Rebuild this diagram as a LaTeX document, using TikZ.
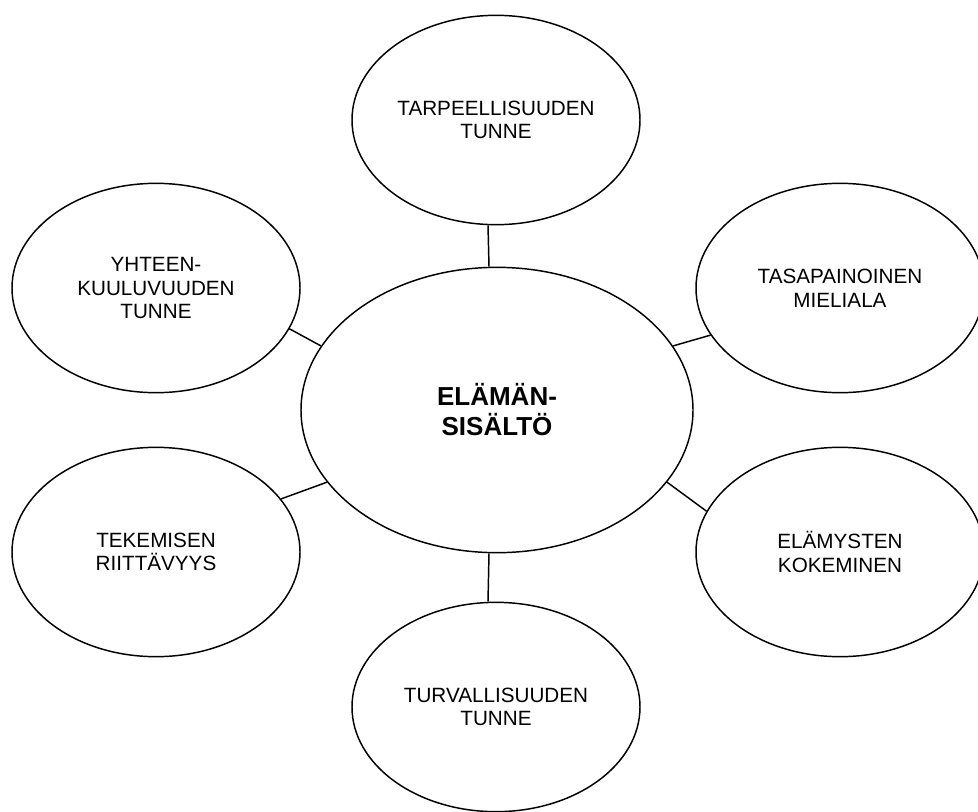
\documentclass[tikz,border=0pt]{standalone}
\usepackage{fontspec}
\setmainfont{Liberation Sans}
\usetikzlibrary{shapes.geometric}

\begin{document}
\begin{tikzpicture}[x=0.75pt,y=-0.75pt]
  \tikzset{pallo/.style={ellipse,draw,line width=1.1pt,inner sep=0pt,align=center,
      minimum width=216pt,minimum height=157pt,font=\fontsize{15.5}{17.8}\selectfont},
    iso/.style={pallo,minimum width=294pt,minimum height=214pt,
      font=\fontsize{19.5}{22.5}\selectfont\bfseries},
    viiva/.style={line width=1.1pt}}
  \useasboundingbox (0,0) rectangle (978,811);
  \node[iso] (keskus) at (497,410) {ELÄMÄN-\\SISÄLTÖ};
  \node[pallo] (tarve) at (496,120) {TARPEELLISUUDEN\\TUNNE};
  \node[pallo] (tasapaino) at (840,288) {TASAPAINOINEN\\MIELIALA};
  \node[pallo] (elamys) at (840,552) {ELÄMYSTEN\\KOKEMINEN};
  \node[pallo] (turva) at (496,707) {TURVALLISUUDEN\\TUNNE};
  \node[pallo] (tekeminen) at (156,552) {TEKEMISEN\\RIITTÄVYYS};
  \node[pallo] (yhteys) at (156,288) {YHTEEN-\\KUULUVUUDEN\\TUNNE};
  % viivat keskelta
  \draw[viiva] ([xshift=-6pt]tarve.south) -- ([xshift=-6pt]keskus.north);
  \draw[viiva] ([xshift=-6pt]keskus.south) -- ([xshift=-6pt]turva.north);
  \draw[viiva] (keskus.20) -- (tasapaino.200);
  \draw[viiva] (keskus.-23) -- (elamys.163);
  \draw[viiva] (keskus.203) -- (tekeminen.23);
  \draw[viiva] (keskus.160) -- (yhteys.-17);
\end{tikzpicture}
\end{document}
